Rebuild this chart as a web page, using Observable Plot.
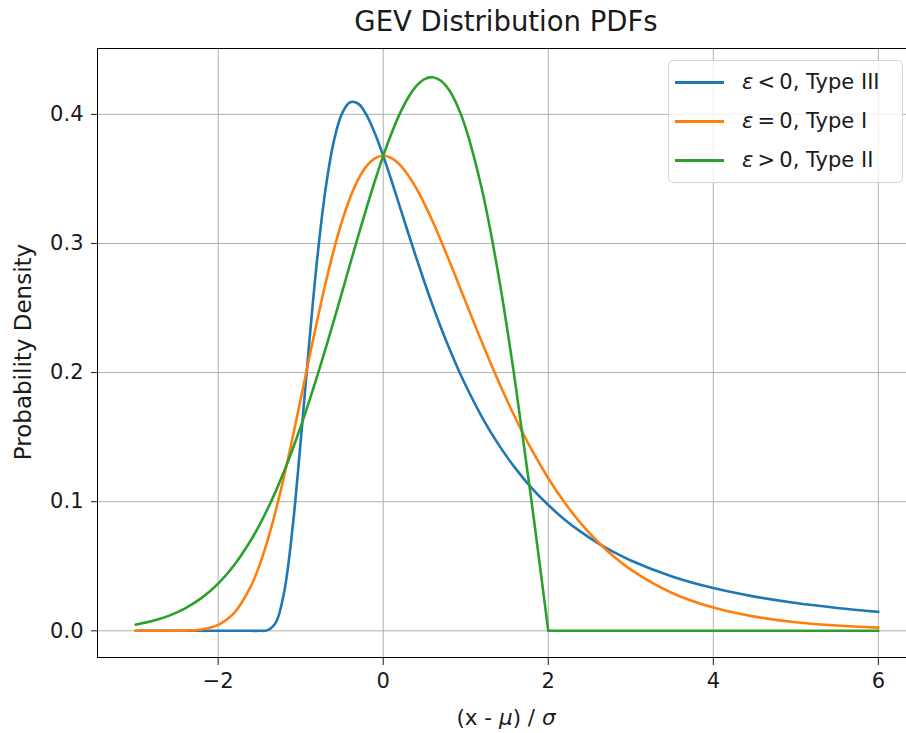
<!DOCTYPE html>
<html><head><meta charset="utf-8">
<script src="https://cdn.jsdelivr.net/npm/d3@7"></script>
<script src="https://cdn.jsdelivr.net/npm/@observablehq/plot@0.6"></script>
<style>
html,body{margin:0;padding:0;background:#fff;overflow:hidden;width:906px;height:733px;font-family:"DejaVu Sans",sans-serif;color:#1a1a1a}
#wrap{position:relative;width:906px;height:733px;overflow:hidden}
#title{position:absolute;left:0;top:5px;width:1012px;text-align:center;font-size:27.5px;line-height:32px}
#chart{position:absolute;left:0;top:40px;width:925px}
#chart svg{max-width:none !important}
#spines{position:absolute;left:97.4px;top:48.4px;width:820px;height:607.8px;border-left:1.2px solid #000;border-top:1.2px solid #000;border-bottom:1.2px solid #000;pointer-events:none}
#xlabel{position:absolute;left:0;top:704px;width:1012px;text-align:center;font-size:21.5px;line-height:28px}
#ylabel{position:absolute;left:23px;top:352px;transform:translate(-50%,-50%) rotate(-90deg);white-space:nowrap;font-size:23px;line-height:26px}
#legend{position:absolute;left:668px;top:60px;width:235px;height:123px;box-sizing:border-box;border:1px solid #d4d4d4;border-radius:5px;background:rgba(255,255,255,0.8)}
.row{position:absolute;left:0;height:30px;width:100%}
.sw{position:absolute;left:6px;top:14px;width:49px;height:3px}
.lt{position:absolute;left:73px;top:0;font-size:21px;line-height:30px;white-space:nowrap}
</style></head>
<body>
<div id="wrap">
  <div id="title">GEV Distribution PDFs</div>
  <div id="chart"></div>
  <div id="spines"></div>
  <div id="xlabel">(x - <i>μ</i>) / <i>σ</i></div>
  <div id="ylabel">Probability Density</div>
  <div id="legend"></div>
</div>
<script>
const seriesNames = ["ε < 0, Type III", "ε = 0, Type I", "ε > 0, Type II"];
const seriesLabelsHtml = ["<i>ε</i>&#8201;&lt;&#8201;0, Type III", "<i>ε</i>&#8201;=&#8201;0, Type I", "<i>ε</i>&#8201;&gt;&#8201;0, Type II"];
const colors = ["#1f77b4", "#ff7f0e", "#2ca02c"];
const xTicks = [-2, 0, 2, 4, 6];
const yTicks = [0.0, 0.1, 0.2, 0.3, 0.4];

const xs = [-3,-2.8,-2.6,-2.4,-2.2,-2,-1.8,
  -1.6,-1.5,-1.4,-1.3,-1.2,-1.1,-1,-0.9,-0.8,-0.7,-0.6,-0.5,-0.4,-0.3,-0.2,-0.1,0,0.1,0.2,0.3,0.4,0.5,0.6,0.7,0.8,0.9,1,
  1.2,1.4,1.6,1.8,2,2.2,2.4,2.6,2.8,3,
  3.5,4,4.5,5,5.5,6];

const blueY = [0,0,0,0,0,0,0,
  0,0.00001,0.00055,0.0066,0.0302,0.0787,0.1465,0.2205,0.2880,0.3415,0.3787,0.4006,0.4094,0.4081,0.3992,0.3851,0.3679,0.3488,0.3288,0.3087,0.2890,0.2700,0.2519,0.2348,0.2188,0.2038,0.1900,
  0.1652,0.1440,0.1260,0.1105,0.0974,0.0861,0.0764,0.0680,0.0608,0.0545,
  0.0421,0.0331,0.0265,0.0215,0.0177,0.0147];

const orangeY = [0,0,0.00002,0.00018,0.00109,0.00457,0.0143,
  0.0350,0.0507,0.0703,0.0936,0.1200,0.1489,0.1794,0.2102,0.2404,0.2688,0.2946,0.3171,0.3356,0.3500,0.3601,0.3660,0.3679,0.3661,0.3611,0.3531,0.3429,0.3307,0.3170,0.3022,0.2867,0.2707,0.2546,
  0.2229,0.1927,0.1650,0.1401,0.1182,0.0992,0.0828,0.0690,0.0572,0.0474,
  0.0293,0.0180,0.0110,0.0067,0.0041,0.0025];

const greenY = [0.0048,0.0076,0.0116,0.0174,0.0255,0.0366,0.0514,
  0.0705,0.0818,0.0945,0.1084,0.1237,0.1403,0.1581,0.1771,0.1972,0.2182,0.2399,0.2620,0.2843,0.3065,0.3280,0.3486,0.3679,0.3852,0.4004,0.4127,0.4218,0.4273,0.4288,0.4260,0.4186,0.4065,0.3894,
  0.3408,0.2742,0.1922,0.0990,0,0,0,0,0,0,
  0,0,0,0,0,0];

// upper bound of the green support (where its curve has a corner)
const greenBound = 2;

const allY = [blueY, orangeY, greenY];
const rows = [];
allY.forEach((ys, i) => ys.forEach((y, j) => {
  const x = xs[j];
  if (i === 2) {
    if (x <= greenBound) rows.push({x, y, series: seriesNames[i], seg: "g1"});
    if (x >= greenBound) rows.push({x, y, series: seriesNames[i], seg: "g2"});
  } else {
    rows.push({x, y, series: seriesNames[i], seg: "s" + i});
  }
}));

const fmtX = d => d < 0 ? "\u2212" + Math.abs(d) : String(d);

const chart = Plot.plot({
  width: 925, height: 693,
  marginTop: 9, marginBottom: 75, marginLeft: 98, marginRight: 10,
  style: {fontFamily: "DejaVu Sans", fontSize: "21px", color: "#1a1a1a", background: "transparent", overflow: "hidden", maxWidth: "none"},
  x: {domain: [-3.45, 6.45], ticks: xTicks, tickFormat: fmtX, tickSize: 7, tickPadding: 8, label: null},
  y: {domain: [-0.02144, 0.45024], ticks: yTicks, tickFormat: d3.format(".1f"), tickSize: 7, tickPadding: 8, label: null},
  color: {domain: seriesNames, range: colors},
  marks: [
    Plot.ruleX(xTicks, {x: d => d, stroke: "#b0b0b0", strokeWidth: 1}),
    Plot.ruleY(yTicks, {y: d => d, stroke: "#b0b0b0", strokeWidth: 1}),
    Plot.line(rows, {x: "x", y: "y", z: "seg", stroke: "series", strokeWidth: 2.6, curve: "catmull-rom"})
  ]
});
document.getElementById("chart").appendChild(chart);

const legend = document.getElementById("legend");
seriesNames.forEach((s, i) => {
  const row = document.createElement("div");
  row.className = "row";
  row.style.top = (6 + i * 39) + "px";
  row.innerHTML = `<div class="sw" style="background:${colors[i]}"></div><div class="lt">${seriesLabelsHtml[i]}</div>`;
  legend.appendChild(row);
});
</script>
</body></html>
